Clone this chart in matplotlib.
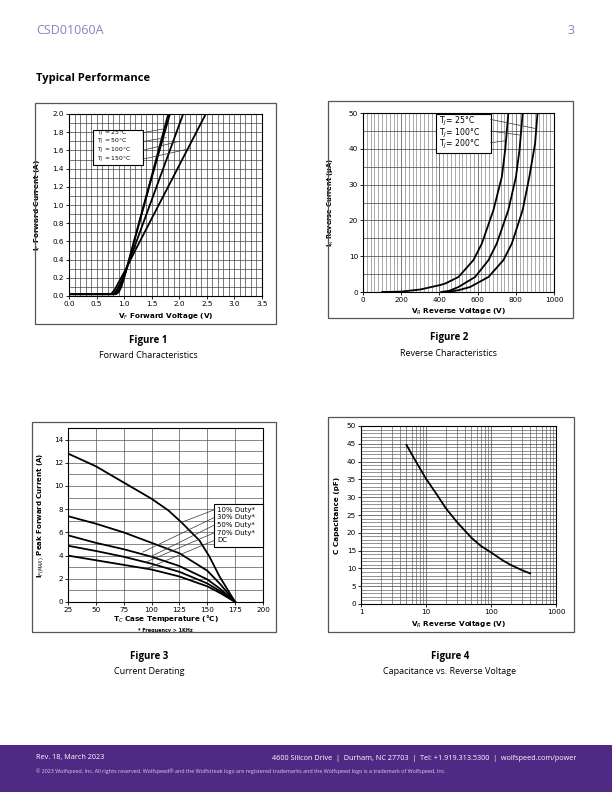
import numpy as np
import matplotlib
matplotlib.use("Agg")
from matplotlib import pyplot as plt
from matplotlib.patches import Rectangle
from matplotlib.ticker import MultipleLocator, LogLocator, NullFormatter, FormatStrFormatter

W, H = 612, 792

# ---- data ----
# Figure 1 forward characteristics
vf_25 = [0, 0.85, 0.9, 0.95, 1.0, 1.05, 1.2, 1.5, 1.8]
if_25 = [0.02, 0.02, 0.04, 0.1, 0.2, 0.31, 0.65, 1.32, 2.0]
vf_50 = [0, 0.82, 0.88, 0.95, 1.0, 1.05, 1.2, 1.5, 1.83]
if_50 = [0.02, 0.02, 0.05, 0.13, 0.21, 0.31, 0.64, 1.3, 2.0]
vf_100 = [0, 0.8, 0.86, 0.93, 1.0, 1.05, 1.2, 1.66, 2.07]
if_100 = [0.02, 0.02, 0.06, 0.14, 0.23, 0.31, 0.56, 1.32, 2.0]
vf_150 = [0, 0.76, 0.83, 0.9, 1.0, 1.05, 1.2, 1.9, 2.48]
if_150 = [0.02, 0.02, 0.07, 0.15, 0.26, 0.32, 0.5, 1.32, 2.0]
fwd_labels = ["T$_J$ = 25°C", "T$_J$ = 50°C", "T$_J$ = 100°C", "T$_J$ = 150°C"]

# Figure 2 reverse characteristics
vr_a = [100, 200, 300, 400, 430, 500, 578, 622, 683, 727, 745, 761]
ir_a = [0, 0.1, 0.7, 1.9, 2.35, 4.2, 8.9, 13.5, 22.9, 32.2, 40, 50]
vr_b = [410, 450, 500, 587, 657, 700, 761, 801, 820, 836]
ir_b = [0, 0.3, 1.4, 4.2, 8.9, 13.5, 22.9, 32.2, 40, 50]
vr_c = [420, 450, 500, 561, 657, 735, 779, 836, 871, 901, 913]
ir_c = [0, 0.1, 0.5, 1.4, 4.2, 8.9, 13.5, 22.9, 32.2, 41.5, 49.5]
rev_labels = ["T$_J$= 25°C", "T$_J$= 100°C", "T$_J$= 200°C"]

# Figure 3 current derating
tc_10 = [25, 50, 75, 100, 115, 127, 143, 152, 161, 175]
duty10 = [12.8, 11.7, 10.3, 8.9, 7.9, 6.85, 5.3, 3.9, 2.2, 0]
tc = [25, 50, 75, 100, 125, 150, 162, 175]
duty30 = [7.4, 6.75, 6.0, 5.1, 4.2, 2.7, 1.5, 0]
duty50 = [5.75, 5.1, 4.55, 3.9, 3.1, 1.95, 1.1, 0]
duty70 = [4.85, 4.4, 3.9, 3.3, 2.6, 1.6, 0.9, 0]
dc = [4.0, 3.6, 3.2, 2.8, 2.2, 1.35, 0.75, 0]
duty_labels = ["10% Duty*", "30% Duty*", "50% Duty*", "70% Duty*", "DC"]

# Figure 4 capacitance
vr_cap = [5, 7, 10, 15, 20, 30, 50, 70, 100, 150, 200, 300, 400]
cap = [44.7, 40, 35.2, 30.5, 27, 23, 18.6, 16.3, 14.5, 12.3, 11, 9.5, 8.6]


def rect(l, t, r, b):
    return [l / W, 1 - b / H, (r - l) / W, (b - t) / H]


fig = plt.figure(figsize=(6.12, 7.92), dpi=100)
fs = 5.2
lw = 1.3

# page text
fig.text(36 / W, 1 - 31 / H, "CSD01060A", fontsize=9, color="#8a80c0",
         family="Open Sans", va="center")
fig.text(575 / W, 1 - 31 / H, "3", fontsize=9, color="#8a80c0",
         family="Open Sans", va="center", ha="right")
fig.text(36 / W, 1 - 78 / H, "Typical Performance", fontsize=8, weight="bold",
         family="Open Sans", va="center")

captions = [(148, 341, "Figure 1", "Forward Characteristics"),
            (449, 338, "Figure 2", "Reverse Characteristics"),
            (149, 657, "Figure 3", "Current Derating"),
            (450, 657, "Figure 4", "Capacitance vs. Reverse Voltage")]
for x, y, t1, t2 in captions:
    fig.text(x / W, 1 - y / H, t1, fontsize=7, weight="bold", family="Open Sans",
             ha="center", va="center")
    fig.text(x / W, 1 - (y + 15) / H, t2, fontsize=6.5, family="Open Sans",
             ha="center", va="center")

# frames
for l, t, r, b in [(35, 103, 276, 324), (328, 101, 573, 318),
                   (32, 422, 276, 632), (328, 417, 574, 632)]:
    fig.patches.append(Rectangle((l / W, 1 - b / H), (r - l) / W, (b - t) / H,
                                 transform=fig.transFigure, fill=False,
                                 edgecolor="#555555", linewidth=0.9))

# footer
fig.patches.append(Rectangle((0, 0), 1, 47 / H, transform=fig.transFigure,
                             facecolor="#4e2a84", edgecolor="none", zorder=0))
fig.text(36 / W, 1 - 758 / H, "Rev. 18, March 2023", fontsize=5.2, color="white",
         family="Open Sans", va="center")
fig.text(576 / W, 1 - 758 / H,
         "4600 Silicon Drive  |  Durham, NC 27703  |  Tel: +1.919.313.5300  |  wolfspeed.com/power",
         fontsize=5.2, color="white", family="Open Sans", va="center", ha="right")
fig.text(36 / W, 1 - 771 / H,
         "© 2023 Wolfspeed, Inc. All rights reserved. Wolfspeed® and the Wolfstreak logo are registered "
         "trademarks and the Wolfspeed logo is a trademark of Wolfspeed, Inc.",
         fontsize=3.9, color="#d8d0ea", family="Open Sans", va="center")


def style(ax, xl, yl, xly, ylx, ylfs=fs):
    ax.tick_params(labelsize=fs, length=2, width=0.6, pad=1.5, which="major")
    ax.tick_params(which="minor", length=0)
    for s in ax.spines.values():
        s.set_linewidth(0.8)
    ax.set_xlabel(xl, fontsize=fs, weight="bold")
    ax.set_ylabel(yl, fontsize=ylfs, weight="bold")
    ax.xaxis.set_label_coords(0.5, xly)
    ax.yaxis.set_label_coords(ylx, 0.5)


# ---- Figure 1 ----
ax1 = fig.add_axes(rect(69, 114, 262, 296))
ax1.set_xlim(0, 3.5)
ax1.set_ylim(0, 2.0)
ax1.xaxis.set_major_locator(MultipleLocator(0.5))
ax1.xaxis.set_minor_locator(MultipleLocator(0.1))
ax1.yaxis.set_major_locator(MultipleLocator(0.2))
ax1.yaxis.set_minor_locator(MultipleLocator(0.1))
ax1.grid(which="both", color="#444444", linewidth=0.5)
ax1.set_axisbelow(True)
for vx, iy in [(vf_25, if_25), (vf_50, if_50), (vf_100, if_100), (vf_150, if_150)]:
    ax1.plot(vx, iy, color="black", linewidth=lw)
ax1.xaxis.set_major_formatter(FormatStrFormatter("%.1f"))
ax1.yaxis.set_major_formatter(FormatStrFormatter("%.1f"))
style(ax1, "V$_F$ Forward Voltage (V)", "I$_F$ Forward Current (A)", -0.085, -0.135)
ax1.add_patch(Rectangle((0.43, 1.435), 0.91, 0.39, facecolor="white",
                        edgecolor="black", linewidth=0.8, zorder=3))
leg_targets1 = [(1.75, 1.84), (1.76, 1.74), (2.0, 1.7), (2.2, 1.62)]
for i, (lab, tgt) in enumerate(zip(fwd_labels, leg_targets1)):
    y = 1.785 - i * 0.097
    ax1.text(0.5, y, lab, fontsize=4.3, va="center", zorder=5)
    ax1.plot([1.34, tgt[0]], [y + 0.01, tgt[1]], color="#333333", linewidth=0.5, zorder=4)

# ---- Figure 2 ----
ax2 = fig.add_axes(rect(363, 113, 554, 292))
ax2.set_xlim(0, 1000)
ax2.set_ylim(0, 50)
ax2.xaxis.set_major_locator(MultipleLocator(200))
ax2.xaxis.set_minor_locator(MultipleLocator(20))
ax2.yaxis.set_major_locator(MultipleLocator(10))
ax2.yaxis.set_minor_locator(MultipleLocator(5))
ax2.grid(which="minor", axis="x", color="#888888", linewidth=0.5)
ax2.grid(which="major", color="#444444", linewidth=0.5)
ax2.grid(which="minor", axis="y", color="#444444", linewidth=0.5)
ax2.set_axisbelow(True)
for vx, iy in [(vr_a, ir_a), (vr_b, ir_b), (vr_c, ir_c)]:
    ax2.plot(vx, iy, color="black", linewidth=lw)
style(ax2, "V$_R$ Reverse Voltage (V)", "I$_R$ Reverse Current (μA)", -0.08, -0.14, fs - 0.4)
ax2.add_patch(Rectangle((383, 38.7), 286, 10.9, facecolor="white",
                        edgecolor="black", linewidth=0.8, zorder=3))
leg_targets2 = [(900, 45.7), (828, 43.8), (752, 42.3)]
for i, (lab, tgt) in enumerate(zip(rev_labels, leg_targets2)):
    y = 47.6 - i * 3.25
    ax2.text(400, y, lab, fontsize=5.6, va="center", zorder=5)
    ax2.plot([669, tgt[0]], [y + 0.6, tgt[1]], color="#333333", linewidth=0.5, zorder=4)

# ---- Figure 3 ----
ax3 = fig.add_axes(rect(68, 428, 263, 602))
ax3.set_xlim(25, 200)
ax3.set_ylim(0, 15)
ax3.xaxis.set_major_locator(MultipleLocator(25))
ax3.yaxis.set_major_locator(MultipleLocator(2))
ax3.yaxis.set_minor_locator(MultipleLocator(1))
ax3.grid(which="major", color="#555555", linewidth=0.5)
ax3.grid(which="minor", axis="y", color="#555555", linewidth=0.5)
ax3.set_axisbelow(True)
ax3.plot(tc_10, duty10, color="black", linewidth=lw)
for yv in [duty30, duty50, duty70, dc]:
    ax3.plot(tc, yv, color="black", linewidth=lw)
style(ax3, "T$_C$ Case Temperature (°C)", "I$_{F(MAX)}$ Peak Forward Current (A)",
      -0.07, -0.115, fs - 0.2)
ax3.text(0.5, -0.163, "* Frequency > 1KHz", transform=ax3.transAxes, fontsize=3.5,
         weight="bold", ha="center", va="center")
ax3.add_patch(Rectangle((156.3, 4.72), 44, 3.73, facecolor="white",
                        edgecolor="black", linewidth=0.8, zorder=3, clip_on=False))
leg_targets3 = [(127, 6.87), (92, 4.3), (99, 3.9), (94, 3.4), (96, 2.9)]
for i, (lab, tgt) in enumerate(zip(duty_labels, leg_targets3)):
    y = 7.95 - i * 0.66
    ax3.text(159, y, lab, fontsize=5, va="center", zorder=5)
    ax3.plot([156.3, tgt[0]], [y, tgt[1]], color="#333333", linewidth=0.5, zorder=4)

# ---- Figure 4 ----
ax4 = fig.add_axes(rect(361, 426, 556, 604))
ax4.set_xscale("log")
ax4.set_xlim(1, 1000)
ax4.set_ylim(0, 50)
ax4.yaxis.set_major_locator(MultipleLocator(5))
ax4.yaxis.set_minor_locator(MultipleLocator(1))
ax4.xaxis.set_minor_locator(LogLocator(subs=np.arange(2, 10)))
ax4.xaxis.set_minor_formatter(NullFormatter())
ax4.set_xticks([1, 10, 100, 1000])
ax4.set_xticklabels(["1", "10", "100", "1000"])
ax4.grid(which="major", color="#444444", linewidth=0.5)
ax4.grid(which="minor", color="#666666", linewidth=0.5)
ax4.set_axisbelow(True)
ax4.plot(vr_cap, cap, color="black", linewidth=lw)
style(ax4, "V$_R$ Reverse Voltage (V)", "C Capacitance (pF)", -0.087, -0.11)

fig.savefig("out.png", dpi=100)
